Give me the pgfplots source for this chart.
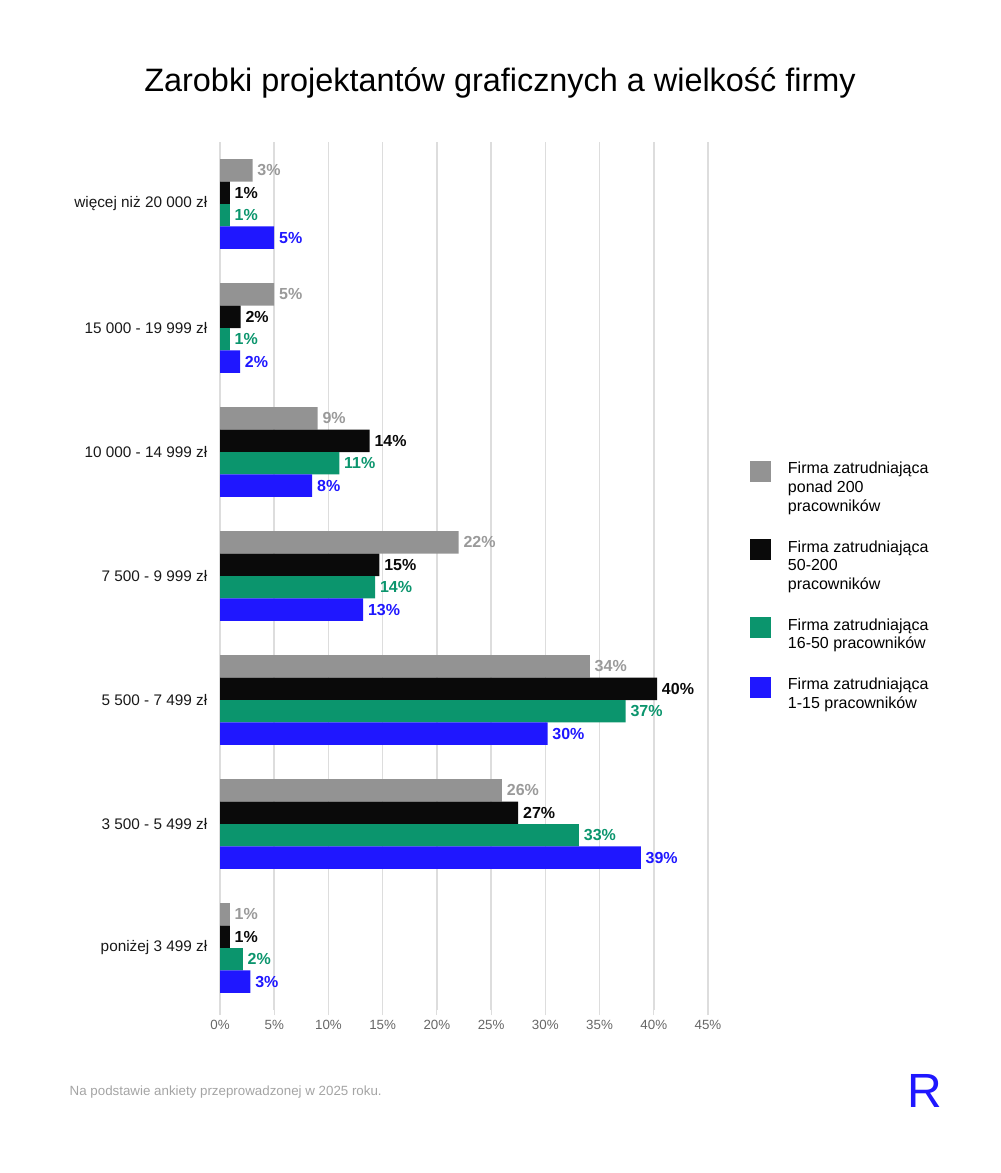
\documentclass[border=0pt]{standalone}
\usepackage{fontspec}
\setmainfont{Liberation Sans}
\usepackage{pgfplots}
\pgfplotsset{compat=1.18}

\definecolor{cgray}{HTML}{939393}
\definecolor{cblack}{HTML}{0A0A0A}
\definecolor{cgreen}{HTML}{0B956D}
\definecolor{cblue}{HTML}{1F17FF}
\definecolor{lgray}{HTML}{9A9A9A}
\definecolor{gridc}{HTML}{DDDDDD}
\definecolor{ticktext}{HTML}{666666}

\newcommand{\lentry}[1]{\begin{tabular}[t]{@{}l@{}}#1\end{tabular}}
% legend square, with room below it for the lines of its text
\pgfplotsset{sq/.style={legend image code/.code={%
  \fill[##1] (0pt,-6pt) rectangle (15.75pt,9.75pt); \path (0pt,-#1);}}}

\begin{document}
\begin{tikzpicture}
\useasboundingbox (0,0) rectangle (750pt,879.75pt);

\node[anchor=base, font=\fontsize{24.3}{28}\selectfont] at (375pt,810.75pt)
  {Zarobki projektantów graficznych a wielkość firmy};

\begin{axis}[
  at={(165pt,122.25pt)}, anchor=south west,
  scale only axis, width=366pt, height=651pt,
  xbar=0pt, bar width=0.18125,
  xmin=0, xmax=45, ymin=-0.5, ymax=6.5, y dir=reverse,
  axis x line*=bottom, axis y line*=left,
  x axis line style={draw=none},
  y axis line style={gridc, line width=1pt},
  xtick={0,5,...,45},
  xticklabel={\pgfmathprintnumber{\tick}\%},
  /pgf/number format/assume math mode=true,
  xticklabel style={font=\fontsize{10}{12}\selectfont, text=ticktext},
  x tick style={gridc, line width=0.8pt},
  tick align=outside,
  major tick length=4pt,
  xmajorgrids,
  grid style={gridc, line width=1.1pt},
  ytick={0,...,6},
  yticklabels={więcej niż 20 000 zł, 15 000 - 19 999 zł, 10 000 - 14 999 zł,
    7 500 - 9 999 zł, 5 500 - 7 499 zł, 3 500 - 5 499 zł, poniżej 3 499 zł},
  y tick style={draw=none},
  yticklabel style={font=\fontsize{11.5}{13}\selectfont, text=black!90, xshift=-2pt},
  extra y ticks={0.5,1.5,2.5,3.5,4.5,5.5},
  extra y tick labels={},
  extra y tick style={grid=none, tick style={draw=gridc, line width=0.8pt}},
  point meta=explicit symbolic,
  nodes near coords={\pgfplotspointmeta\%},
  nodes near coords style={font=\fontsize{12}{13}\selectfont\bfseries, anchor=west, inner sep=3.5pt},
  legend cell align=left,
  legend style={at={(1.086,0.6325)}, anchor=north west, draw=none, fill=none,
    inner sep=0pt, outer sep=0pt, row sep=16.8pt, column sep=12.75pt,
    font=\fontsize{12}{13.9}\selectfont,
    nodes={inner sep=0pt}, cells={anchor=base west}},
]
\addplot[fill=cgray, draw=none, sq=32pt, every node near coord/.append style={text=lgray}]
  coordinates {(3.0,0) [3] (5.0,1) [5] (9.0,2) [9] (22.0,3) [22] (34.1,4) [34] (26.0,5) [26] (0.9,6) [1]};
\addplot[fill=cblack, draw=none, sq=32pt, every node near coord/.append style={text=cblack}]
  coordinates {(0.9,0) [1] (1.9,1) [2] (13.8,2) [14] (14.7,3) [15] (40.3,4) [40] (27.5,5) [27] (0.9,6) [1]};
\addplot[fill=cgreen, draw=none, sq=18.1pt, every node near coord/.append style={text=cgreen}]
  coordinates {(0.9,0) [1] (0.9,1) [1] (11.0,2) [11] (14.3,3) [14] (37.4,4) [37] (33.1,5) [33] (2.1,6) [2]};
\addplot[fill=cblue, draw=none, sq=18.1pt, every node near coord/.append style={text=cblue}]
  coordinates {(5.0,0) [5] (1.85,1) [2] (8.5,2) [8] (13.2,3) [13] (30.2,4) [30] (38.8,5) [39] (2.8,6) [3]};
\addlegendentry{\lentry{Firma zatrudniająca\\ponad 200\\pracowników}}
\addlegendentry{\lentry{Firma zatrudniająca\\50-200\\pracowników}}
\addlegendentry{\lentry{Firma zatrudniająca\\16-50 pracowników}}
\addlegendentry{\lentry{Firma zatrudniająca\\1-15 pracowników}}
\end{axis}

\node[anchor=base west, font=\fontsize{10}{12}\selectfont, text=lgray!90]
  at (48.75pt,57.75pt) {Na podstawie ankiety przeprowadzonej w 2025 roku.};
\node[anchor=base, font=\fontsize{36}{40}\selectfont, text=cblue] at (693.75pt,48.75pt) {R};
\end{tikzpicture}
\end{document}
